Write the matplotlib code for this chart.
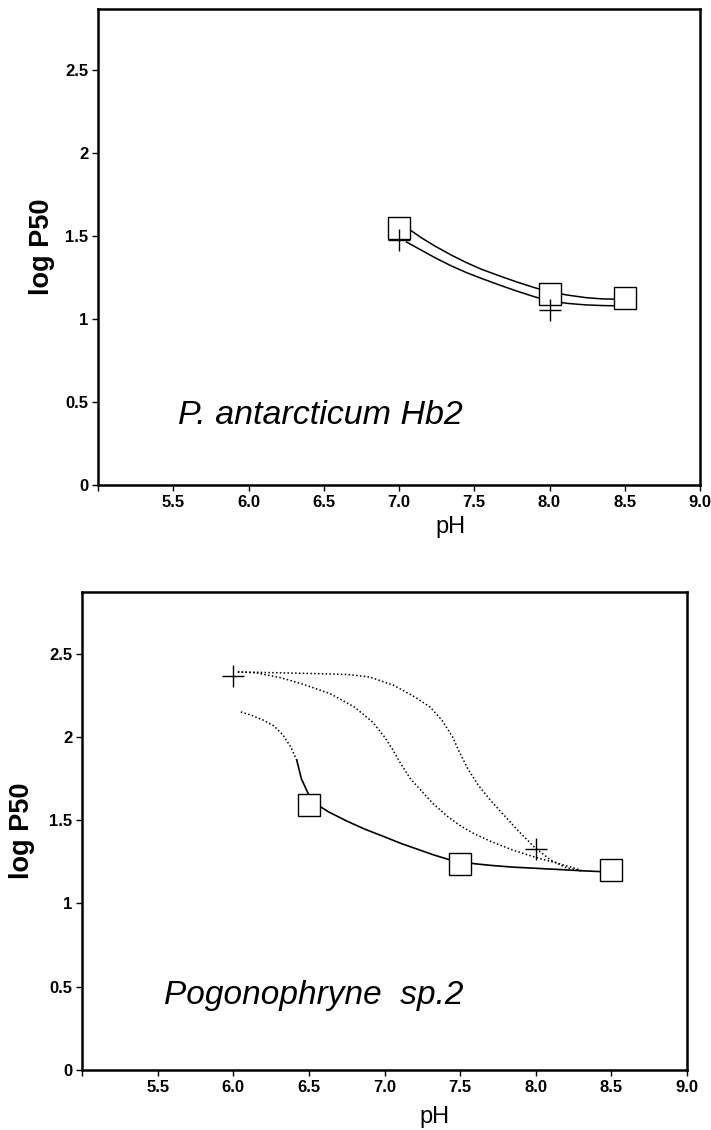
import matplotlib
matplotlib.use("Agg")
import matplotlib.pyplot as plt

plt.rcParams['font.family'] = ['Liberation Sans', 'DejaVu Sans']

# ---------------- data: top panel (P. antarcticum Hb2) ----------------
top_sq_x = [7.0, 8.0, 8.5]
top_sq_y = [1.55, 1.15, 1.13]
top_plus_x = [7.0, 8.0]
top_plus_y = [1.475, 1.055]
top_curve1_x = [7.07, 7.15, 7.24, 7.35, 7.45, 7.55, 7.67, 7.78, 7.9, 8.0, 8.12, 8.24, 8.35, 8.47]
top_curve1_y = [1.54, 1.49, 1.44, 1.385, 1.34, 1.30, 1.26, 1.225, 1.19, 1.165, 1.145, 1.13, 1.122, 1.12]
top_curve2_x = [7.05, 7.15, 7.24, 7.35, 7.45, 7.55, 7.67, 7.78, 7.9, 8.0, 8.12, 8.24, 8.35, 8.47]
top_curve2_y = [1.465, 1.415, 1.37, 1.32, 1.28, 1.245, 1.205, 1.17, 1.135, 1.11, 1.095, 1.086, 1.082, 1.08]

# ---------------- data: bottom panel (Pogonophryne sp.2) ----------------
bot_sq_x = [6.5, 7.5, 8.5]
bot_sq_y = [1.59, 1.235, 1.20]
bot_plus_x = [6.0, 8.0]
bot_plus_y = [2.367, 1.326]
# lowest curve: dotted part then solid part
low_dot_x = [6.05, 6.12, 6.2, 6.27, 6.33, 6.38, 6.42]
low_dot_y = [2.15, 2.13, 2.10, 2.065, 2.01, 1.94, 1.86]
low_sol_x = [6.42, 6.45, 6.50, 6.56, 6.63, 6.75, 6.87, 7.0, 7.11, 7.22, 7.32, 7.42, 7.5, 7.6, 7.71, 7.85, 8.0, 8.15, 8.31, 8.46]
low_sol_y = [1.86, 1.75, 1.65, 1.59, 1.55, 1.495, 1.446, 1.40, 1.36, 1.325, 1.293, 1.265, 1.25, 1.238, 1.228, 1.218, 1.211, 1.204, 1.196, 1.19]
mid_dot_x = [6.03, 6.15, 6.31, 6.45, 6.64, 6.80, 6.92, 7.0, 7.05, 7.1, 7.17, 7.25, 7.32, 7.42, 7.5, 7.6, 7.71, 7.85, 8.0, 8.15, 8.3]
mid_dot_y = [2.39, 2.385, 2.356, 2.32, 2.26, 2.18, 2.09, 2.0, 1.93, 1.85, 1.75, 1.67, 1.60, 1.52, 1.467, 1.415, 1.37, 1.32, 1.276, 1.24, 1.20]
high_dot_x = [6.03, 6.3, 6.55, 6.75, 6.9, 7.06, 7.2, 7.30, 7.38, 7.45, 7.5, 7.55, 7.62, 7.7, 7.77, 7.88, 8.0, 8.1, 8.2, 8.3]
high_dot_y = [2.39, 2.385, 2.38, 2.375, 2.36, 2.31, 2.24, 2.18, 2.10, 2.00, 1.90, 1.81, 1.71, 1.62, 1.55, 1.44, 1.33, 1.26, 1.215, 1.195]

x_ticks = [5.0, 5.5, 6.0, 6.5, 7.0, 7.5, 8.0, 8.5, 9.0]
x_ticklabels = ['', '5.5', '6.0', '6.5', '7.0', '7.5', '8.0', '8.5', '9.0']
y_ticks = [0, 0.5, 1, 1.5, 2, 2.5]
y_ticklabels = ['0', '0.5', '1', '1.5', '2', '2.5']

W, H = 711, 1130
fig = plt.figure(figsize=(W / 100, H / 100), dpi=100)

ax1 = fig.add_axes([98 / W, 1 - 485 / H, 602 / W, 476 / H])
ax2 = fig.add_axes([82 / W, 1 - 1070 / H, 605 / W, 478 / H])

sq_kw = dict(marker='s', markersize=16.5, markerfacecolor='white',
             markeredgecolor='black', markeredgewidth=1.0, linestyle='none', zorder=5)
plus_kw = dict(marker='+', markersize=16, markeredgecolor='black',
               markeredgewidth=1.0, linestyle='none', zorder=6)
dot_style = (0, (1, 1.5))

# top panel
ax1.plot(top_curve1_x, top_curve1_y, color='black', lw=1.1, zorder=3)
ax1.plot(top_curve2_x, top_curve2_y, color='black', lw=1.1, zorder=3)
ax1.plot(top_sq_x, top_sq_y, **sq_kw)
ax1.plot(top_plus_x, top_plus_y, **plus_kw)
ax1.text(5.53, 0.367, 'P. antarcticum Hb2', fontsize=24.5, fontstyle='italic',
         ha='left', va='baseline')

# bottom panel
ax2.plot(low_dot_x, low_dot_y, color='black', lw=1.1, linestyle=dot_style, zorder=3)
ax2.plot(low_sol_x, low_sol_y, color='black', lw=1.2, zorder=3)
ax2.plot(mid_dot_x, mid_dot_y, color='black', lw=1.1, linestyle=dot_style, zorder=3)
ax2.plot(high_dot_x, high_dot_y, color='black', lw=1.1, linestyle=dot_style, zorder=3)
ax2.plot(bot_sq_x, bot_sq_y, **sq_kw)
ax2.plot(bot_plus_x, bot_plus_y, **plus_kw)
ax2.text(5.54, 0.398, 'Pogonophryne  sp.2', fontsize=24, fontstyle='italic',
         ha='left', va='baseline')

for ax, lx, ly, px, py in [(ax1, -0.093, 0.5, 0.585, -0.088),
                           (ax2, -0.099, 0.5, 0.583, -0.098)]:
    ax.set_xlim(5.0, 9.0)
    ax.set_ylim(0, 2.87)
    ax.set_xticks(x_ticks)
    ax.set_xticklabels(x_ticklabels, fontsize=12, fontweight='bold')
    ax.set_yticks(y_ticks)
    ax.set_yticklabels(y_ticklabels, fontsize=12, fontweight='bold')
    ax.tick_params(direction='out', length=4, width=1, pad=3, colors='black')
    for s in ax.spines.values():
        s.set_linewidth(1.8)
        s.set_color('black')
    ax.set_ylabel('log P50', fontsize=19.5, fontweight='bold')
    ax.yaxis.set_label_coords(lx, ly)
    ax.set_xlabel('pH', fontsize=17)
    ax.xaxis.set_label_coords(px, py)
    ax.xaxis.label.set_va('center')
    ax.yaxis.label.set_va('center')

fig.savefig('out.png', dpi=100, facecolor='white')
